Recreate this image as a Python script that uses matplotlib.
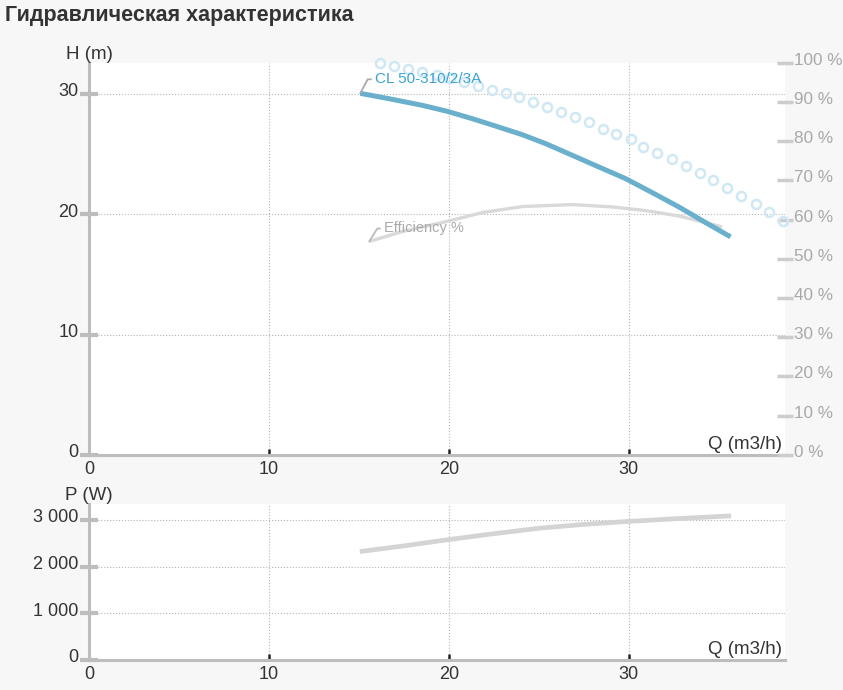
import matplotlib
matplotlib.use("Agg")
import matplotlib.pyplot as plt
from matplotlib.transforms import ScaledTranslation

plt.rcParams['font.family'] = ['Liberation Sans', 'DejaVu Sans']

# head curve H(Q)
q_head = [15.08, 16.66, 18.51, 19.91, 21.30, 22.59, 24.08, 25.38, 26.86, 28.34,
          29.83, 31.31, 32.79, 34.28, 35.67]
h_head = [30.04, 29.60, 29.05, 28.55, 27.94, 27.33, 26.61, 25.87, 24.90, 23.93,
          22.96, 21.80, 20.61, 19.31, 18.12]

# efficiency curve (%)
q_eff = [15.58, 17.47, 19.9, 21.9, 24.1, 26.9, 29.1, 30.9, 32.8, 34.3, 35.2]
eff = [54.4, 57.0, 59.5, 61.8, 63.3, 63.8, 63.2, 62.3, 60.9, 59.2, 58.1]

# dotted curve (open circles), in m
q_dots = [16.17, 16.94, 17.72, 18.50, 19.33, 20.06, 20.83, 21.61, 22.39, 23.17,
          23.89, 24.67, 25.44, 26.22, 27.00, 27.78, 28.56, 29.33, 30.11, 30.83,
          31.61, 32.44, 33.22, 34.00, 34.72, 35.50, 36.28, 37.06, 37.83, 38.61]
h_dots = [32.56, 32.31, 32.03, 31.81, 31.59, 31.29, 30.98, 30.65, 30.35, 30.07,
          29.73, 29.32, 28.90, 28.49, 28.07, 27.66, 27.11, 26.64, 26.22, 25.56,
          25.06, 24.56, 23.98, 23.40, 22.82, 22.16, 21.49, 20.83, 20.17, 19.42]

# power curve P(Q)
q_pow = [15.06, 17.65, 19.87, 22.28, 25.06, 27.65, 29.87, 32.46, 35.7]
p_pow = [2321, 2450, 2571, 2693, 2822, 2907, 2964, 3021, 3086]

h_ticks = [0, 10, 20, 30]
eff_ticks = [0, 10, 20, 30, 40, 50, 60, 70, 80, 90, 100]
p_ticks = [0, 1000, 2000, 3000]
p_labels = ['0', '1 000', '2 000', '3 000']
q_ticks = [0, 10, 20, 30]

H_MAX = 32.6
BG = '#f7f7f7'
AXIS = '#bdbdbd'
GRID = '#b5b5b5'
TXT = '#333333'

fig = plt.figure(figsize=(8.43, 6.9), dpi=100, facecolor=BG)
fig.text(0.006, 0.978, 'Гидравлическая характеристика', fontsize=15.5,
         fontweight='bold', color=TXT, ha='left', va='center')

ax = fig.add_axes([0.1056, 0.3406, 0.8256, 0.5688])
axp = fig.add_axes([0.1056, 0.0435, 0.8256, 0.2261])
lift = ScaledTranslation(0, 4 / 100, fig.dpi_scale_trans)


def style_axes(a):
    a.set_facecolor('white')
    for s in ['top', 'right']:
        a.spines[s].set_visible(False)
    a.spines['left'].set_color(AXIS)
    a.spines['left'].set_linewidth(2.2)
    a.spines['bottom'].set_color(AXIS)
    a.spines['bottom'].set_linewidth(2.2)
    a.set_xlim(0, 38.7)
    a.set_xticks(q_ticks)
    a.tick_params(axis='x', direction='in', length=4, width=1.8, color='#222222',
                  labelsize=13, labelcolor=TXT, pad=4)
    a.tick_params(axis='y', direction='inout', length=13, width=3, color=AXIS,
                  labelsize=13, labelcolor=TXT, pad=1)
    a.grid(True, linestyle=':', color=GRID, linewidth=0.8)
    a.set_axisbelow(True)


style_axes(ax)
ax.set_ylim(0, H_MAX)
ax.set_yticks(h_ticks)

style_axes(axp)
axp.set_ylim(0, 3340)
axp.set_yticks(p_ticks)
axp.set_yticklabels(p_labels)

# efficiency axis on the right
ax2 = ax.twinx()
ax2.set_ylim(0, 100)
ax2.set_yticks(eff_ticks)
ax2.set_yticklabels([f'{v} %' for v in eff_ticks])
for s in ['top', 'left', 'bottom', 'right']:
    ax2.spines[s].set_visible(False)
ax2.tick_params(axis='y', direction='inout', length=11, width=2.5, color='#cccccc',
                labelsize=12.3, labelcolor='#a8a8a8', pad=1)

for a in (ax, axp, ax2):
    for lab in a.get_yticklabels():
        lab.set_transform(lab.get_transform() + lift)

ax2.plot(q_eff, eff, color='#d9d9d9', linewidth=2.4, solid_capstyle='butt')
ax2.plot(q_dots, [h / H_MAX * 100 for h in h_dots], linestyle='none', marker='o',
         markersize=6.5, markerfacecolor='none', markeredgecolor='#cfe8f4',
         markeredgewidth=1.8, clip_on=False)
ax2.plot(q_head, [h / H_MAX * 100 for h in h_head], color='#6ab0cc', linewidth=3.6,
         solid_capstyle='butt')

ax2.annotate('CL 50-310/2/3A', xy=(q_head[0], h_head[0] / H_MAX * 100),
             xytext=(15, 14), textcoords='offset pixels', fontsize=11,
             color='#3ba3d4', va='center', ha='left',
             arrowprops=dict(arrowstyle='-', color='#aaaaaa', lw=1.3,
                             shrinkA=1, shrinkB=0, relpos=(0, 0.5),
                             connectionstyle='angle,angleA=0,angleB=62,rad=0'))
ax2.annotate('Efficiency %', xy=(q_eff[0], eff[0]),
             xytext=(15, 13), textcoords='offset pixels', fontsize=10.5,
             color='#aaaaaa', va='center', ha='left',
             arrowprops=dict(arrowstyle='-', color='#bbbbbb', lw=1.3,
                             shrinkA=1, shrinkB=0, relpos=(0, 0.5),
                             connectionstyle='angle,angleA=0,angleB=58,rad=0'))

axp.plot(q_pow, p_pow, color='#d4d4d4', linewidth=3.4, solid_capstyle='butt')

# axis titles
ax.text(0.0, 1.0, 'H (m)', transform=ax.transAxes, fontsize=13.5, color=TXT,
        ha='center', va='bottom')
ax.text(0.995, 0.006, 'Q (m3/h)', transform=ax.transAxes, fontsize=13.5,
        color=TXT, ha='right', va='bottom')
axp.text(0.0, 1.0, 'P (W)', transform=axp.transAxes, fontsize=13.5, color=TXT,
         ha='center', va='bottom')
axp.text(0.995, 0.01, 'Q (m3/h)', transform=axp.transAxes, fontsize=13.5,
         color=TXT, ha='right', va='bottom')

fig.savefig('out.png', dpi=100, facecolor=BG)
